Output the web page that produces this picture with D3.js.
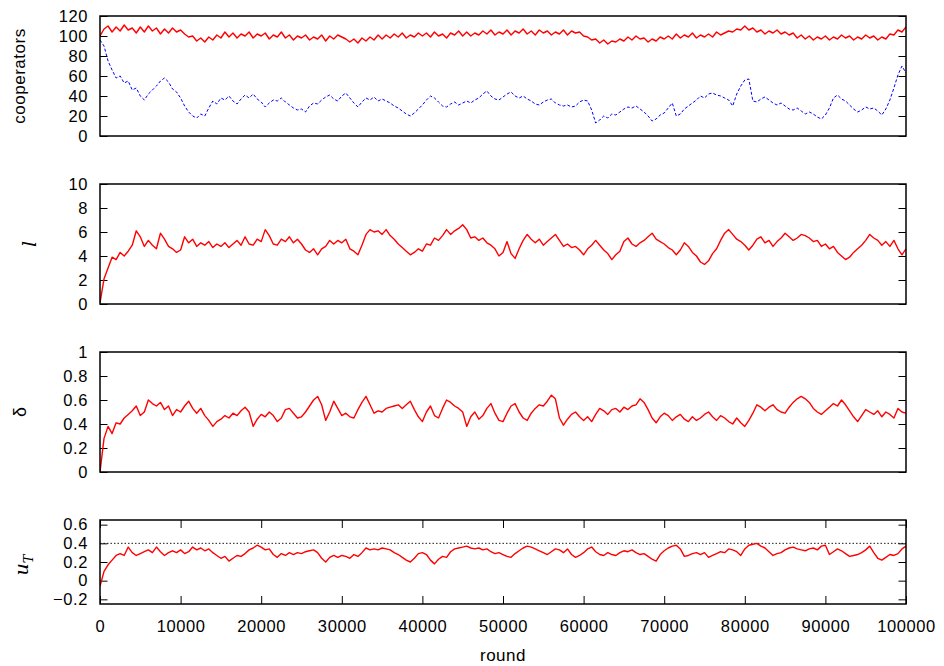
<!DOCTYPE html>
<html>
<head>
<meta charset="utf-8">
<script src="https://cdn.jsdelivr.net/npm/d3@7"></script>
<style>
  body { margin: 0; background: #fff; }
  svg { font-family: "Liberation Sans", Arial, sans-serif; }
</style>
</head>
<body>
<div id="chart"></div>
<script>
// rounds are sampled every 500 steps, 0 .. 100000
var roundStep = 500;

// panel 1 : cooperators (two runs)
var coopHigh = [
  100,107,110,104,109,105,111,106,108,103,109,
  104,110,105,108,102,107,103,108,104,106,
  102,99,100,95,98,94,99,96,101,98,
  104,99,103,98,102,100,104,98,102,100,
  103,97,101,99,104,98,101,96,100,98,
  101,96,99,97,101,95,100,97,101,99,
  97,94,97,93,98,95,99,96,101,97,
  101,98,102,99,103,98,101,99,103,100,
  103,99,104,100,102,98,103,101,105,100,
  104,100,103,101,105,102,106,101,104,102,
  106,101,105,103,107,102,105,101,106,103,
  105,101,104,102,106,101,105,103,104,100,
  99,96,97,93,96,92,95,94,97,95,
  99,96,100,97,98,94,97,95,99,97,
  100,97,102,98,101,99,103,98,101,99,
  102,99,104,101,103,105,104,107,106,110,
  106,108,104,106,102,105,103,106,102,104,
  101,103,98,101,97,100,96,99,97,100,
  96,99,97,101,98,100,96,99,97,101,
  98,100,96,99,97,102,101,106,104,109
];
var coopLow = [
  96,90,75,66,58,60,53,55,46,48,40,
  36,42,46,50,55,58,54,47,44,38,
  30,24,20,18,22,20,28,35,32,38,
  36,40,35,32,37,41,38,42,37,34,
  29,33,36,35,38,34,31,28,26,27,
  24,30,33,32,36,39,41,37,35,40,
  43,38,33,29,34,38,36,39,35,37,
  35,33,30,28,25,22,20,23,27,31,
  36,40,38,34,30,29,32,34,31,33,
  35,33,36,38,42,45,40,37,36,39,
  42,44,40,38,40,37,35,32,31,34,
  36,37,33,31,30,31,29,30,34,36,
  35,26,13,16,20,18,22,21,24,27,
  29,28,30,27,24,20,15,17,21,23,
  28,33,20,22,27,30,33,36,40,38,
  42,43,41,40,38,36,30,42,50,56,
  57,35,34,37,39,36,33,31,33,30,
  27,26,28,25,22,24,22,19,17,21,
  28,38,41,37,35,31,27,24,26,29,
  27,28,25,21,27,36,48,61,70,63
];
// panel 2 : l
var lValues = [
  0.1,2.1,3.0,3.9,3.7,4.3,4.0,4.4,4.9,6.1,5.6,
  4.8,5.3,4.9,4.6,5.9,5.4,4.8,4.6,4.3,4.5,
  5.6,5.1,5.4,4.8,5.1,4.9,5.2,4.7,5.0,4.8,
  5.1,4.7,5.0,5.3,4.9,5.6,5.0,4.9,5.4,5.2,
  6.2,5.7,5.0,4.9,5.4,5.2,5.6,5.1,5.4,5.0,
  4.5,4.3,4.6,4.1,4.6,4.8,5.3,5.0,5.3,5.1,
  5.4,4.6,4.4,4.1,4.9,5.8,6.2,6.0,6.1,5.8,
  6.2,5.7,5.4,5.0,4.7,4.4,4.1,4.3,4.6,4.4,
  5.0,4.9,5.5,5.3,5.7,6.2,5.8,6.1,6.3,6.6,
  6.2,5.5,5.6,5.3,5.5,5.1,4.9,4.6,4.0,4.3,
  5.2,4.2,3.8,4.6,5.3,5.8,5.4,5.1,5.4,4.9,
  5.2,5.5,5.8,5.3,4.8,5.0,4.7,4.8,4.5,4.1,
  4.6,4.9,5.3,4.9,4.5,4.2,3.7,4.1,4.4,5.2,
  5.5,5.0,4.8,5.1,5.3,5.6,5.9,5.4,5.2,5.0,
  4.7,4.5,4.1,4.5,5.1,4.8,4.3,4.0,3.5,3.3,
  3.6,4.2,4.6,5.3,5.9,6.2,5.8,5.4,5.2,4.9,
  4.5,4.9,5.4,5.6,5.1,5.3,4.8,5.2,5.5,5.9,
  5.6,5.3,5.5,5.8,5.7,5.5,5.2,5.3,4.8,5.0,
  4.6,4.8,4.3,4.0,3.7,3.9,4.3,4.6,4.9,5.3,
  5.8,5.5,5.3,4.9,5.2,4.8,5.3,4.6,4.1,4.6
];
// panel 3 : delta
var deltaValues = [
  0.00,0.28,0.38,0.32,0.41,0.40,0.45,0.48,0.51,0.55,0.47,
  0.50,0.60,0.57,0.55,0.58,0.52,0.55,0.47,0.52,0.50,
  0.55,0.59,0.53,0.49,0.53,0.47,0.43,0.38,0.42,0.44,
  0.47,0.45,0.49,0.47,0.51,0.54,0.50,0.38,0.44,0.48,
  0.46,0.50,0.47,0.42,0.45,0.52,0.53,0.49,0.45,0.46,
  0.50,0.55,0.60,0.63,0.56,0.43,0.50,0.59,0.53,0.47,
  0.49,0.46,0.45,0.52,0.58,0.63,0.56,0.49,0.51,0.50,
  0.53,0.54,0.55,0.56,0.53,0.56,0.59,0.52,0.46,0.42,
  0.50,0.55,0.47,0.45,0.53,0.60,0.58,0.55,0.53,0.50,
  0.38,0.46,0.50,0.44,0.47,0.53,0.57,0.49,0.43,0.42,
  0.49,0.55,0.57,0.50,0.45,0.43,0.49,0.53,0.56,0.55,
  0.59,0.64,0.61,0.45,0.39,0.44,0.48,0.50,0.46,0.43,
  0.46,0.42,0.48,0.53,0.51,0.48,0.52,0.53,0.50,0.54,
  0.52,0.55,0.56,0.61,0.58,0.52,0.45,0.41,0.46,0.49,
  0.47,0.43,0.46,0.48,0.44,0.42,0.46,0.43,0.45,0.48,
  0.50,0.46,0.43,0.47,0.45,0.42,0.40,0.45,0.41,0.38,
  0.43,0.49,0.56,0.54,0.51,0.54,0.56,0.52,0.50,0.49,
  0.54,0.58,0.61,0.63,0.61,0.58,0.53,0.50,0.48,0.51,
  0.54,0.57,0.55,0.60,0.56,0.51,0.46,0.42,0.47,0.52,
  0.50,0.48,0.51,0.46,0.50,0.48,0.45,0.53,0.50,0.49
];
// panel 4 : u_T
var uValues = [
  -0.06,0.10,0.17,0.22,0.27,0.29,0.27,0.36,0.30,0.27,0.29,
  0.31,0.33,0.30,0.36,0.31,0.27,0.30,0.32,0.30,0.33,
  0.29,0.31,0.36,0.33,0.35,0.32,0.34,0.30,0.27,0.24,
  0.26,0.21,0.24,0.27,0.26,0.29,0.33,0.35,0.38,0.36,
  0.33,0.34,0.28,0.25,0.29,0.27,0.30,0.28,0.30,0.29,
  0.31,0.32,0.33,0.30,0.24,0.20,0.25,0.27,0.25,0.27,
  0.26,0.24,0.28,0.26,0.30,0.35,0.33,0.34,0.33,0.35,
  0.34,0.33,0.30,0.28,0.25,0.22,0.20,0.24,0.29,0.30,
  0.28,0.22,0.18,0.23,0.26,0.25,0.31,0.34,0.35,0.36,
  0.37,0.35,0.34,0.35,0.33,0.34,0.31,0.29,0.30,0.28,
  0.26,0.25,0.29,0.32,0.35,0.37,0.36,0.34,0.32,0.30,
  0.28,0.31,0.34,0.33,0.30,0.34,0.28,0.25,0.27,0.30,
  0.34,0.36,0.31,0.28,0.27,0.30,0.28,0.27,0.30,0.32,
  0.31,0.33,0.30,0.28,0.29,0.26,0.23,0.21,0.28,0.32,
  0.35,0.37,0.38,0.34,0.26,0.27,0.29,0.30,0.28,0.30,
  0.25,0.27,0.29,0.31,0.30,0.34,0.33,0.31,0.27,0.34,
  0.38,0.39,0.40,0.37,0.35,0.31,0.27,0.29,0.30,0.33,
  0.35,0.36,0.34,0.33,0.32,0.34,0.35,0.33,0.37,0.38,
  0.28,0.31,0.34,0.32,0.29,0.26,0.27,0.28,0.30,0.33,
  0.37,0.30,0.24,0.22,0.25,0.28,0.27,0.29,0.34,0.37
];
var uReference = 0.4;

var xTicks = [0,10000,20000,30000,40000,50000,60000,70000,80000,90000,100000];

var W = 944, H = 666;
var left = 100, right = 906;

var svg = d3.select('#chart').append('svg').attr('width', W).attr('height', H);

var x = d3.scaleLinear().domain([0, 100000]).range([left, right]);

// panel boxes (top, bottom) and y settings
var panels = [
  { top: 16,  bottom: 136, domain: [0, 120],      ticks: [0,20,40,60,80,100,120], fmt: d3.format('d') },
  { top: 184, bottom: 304, domain: [0, 10],       ticks: [0,2,4,6,8,10],          fmt: d3.format('d') },
  { top: 352, bottom: 472, domain: [0, 1],        ticks: [0,0.2,0.4,0.6,0.8,1],   fmt: function(d){ return d === 0 || d === 1 ? String(d) : d3.format('.1f')(d); } },
  { top: 520, bottom: 604, domain: [-0.25, 0.65], ticks: [-0.2,0,0.2,0.4,0.6],    fmt: function(d){ return d === 0 ? '0' : d3.format('.1f')(d); } }
];

function line_for(y){
  return d3.line()
    .x(function(d, i){ return x(i * roundStep); })
    .y(function(d){ return y(d); });
}

function style_axis(g){
  g.select('.domain').remove();
  g.selectAll('line').attr('stroke', '#000').attr('stroke-width', 1);
  g.selectAll('text').attr('fill', '#000')
    .style('font-size', '16.5px').style('letter-spacing', '0.6px')
    .style('font-family', '"Liberation Sans", Arial, sans-serif');
}

panels.forEach(function(p, k){
  var y = d3.scaleLinear().domain(p.domain).range([p.bottom, p.top]);
  p.y = y;

  // clip so the traces stay inside the box
  svg.append('clipPath').attr('id', 'clip' + k)
    .append('rect').attr('x', left).attr('y', p.top)
    .attr('width', right - left).attr('height', p.bottom - p.top);

  var gl = svg.append('g').attr('transform', 'translate(' + left + ',0)')
    .call(d3.axisLeft(y).tickValues(p.ticks).tickFormat(p.fmt).tickSize(-7.5).tickPadding(12));
  var gr = svg.append('g').attr('transform', 'translate(' + right + ',0)')
    .call(d3.axisRight(y).tickValues(p.ticks).tickFormat('').tickSize(-7.5));
  style_axis(gl);
  style_axis(gr);
});

// x ticks only on the bottom panel
var pb = panels[3];
var gb = svg.append('g').attr('transform', 'translate(0,' + pb.bottom + ')')
  .call(d3.axisBottom(x).tickValues(xTicks).tickFormat(d3.format('d')).tickSize(-8).tickPadding(16));
var gt = svg.append('g').attr('transform', 'translate(0,' + pb.top + ')')
  .call(d3.axisTop(x).tickValues(xTicks).tickFormat('').tickSize(-8));
style_axis(gb);
style_axis(gt);

// dotted reference line in the u_T panel
svg.append('line')
  .attr('x1', left).attr('x2', right)
  .attr('y1', pb.y(uReference)).attr('y2', pb.y(uReference))
  .attr('stroke', '#000').attr('stroke-width', 0.9).attr('stroke-dasharray', '1.5,2');

// traces
function trace(k, values, color, dash, width){
  var path = svg.append('path')
    .datum(values)
    .attr('clip-path', 'url(#clip' + k + ')')
    .attr('fill', 'none')
    .attr('stroke', color)
    .attr('stroke-width', width)
    .attr('stroke-linejoin', 'round')
    .attr('d', line_for(panels[k].y));
  if(dash) path.attr('stroke-dasharray', dash);
}
trace(0, coopLow, '#0000ff', '3,2', 1);
trace(0, coopHigh, '#ff0000', null, 1.4);
trace(1, lValues, '#ff0000', null, 1.4);
trace(2, deltaValues, '#ff0000', null, 1.4);
trace(3, uValues, '#ff0000', null, 1.4);

// frames
panels.forEach(function(p){
  svg.append('rect').attr('x', left).attr('y', p.top)
    .attr('width', right - left).attr('height', p.bottom - p.top)
    .attr('fill', 'none').attr('stroke', '#000').attr('stroke-width', 1.5);
});

// axis titles
svg.append('text').attr('transform', 'translate(25,76) rotate(-90)')
  .attr('text-anchor', 'middle').style('font-size', '17px').style('letter-spacing', '0.5px')
  .text('cooperators');
svg.append('text').attr('transform', 'translate(36,244) rotate(-90)')
  .attr('text-anchor', 'middle').style('font-size', '19px')
  .style('font-family', '"DejaVu Serif", serif').style('font-style', 'italic')
  .text('l');
svg.append('text').attr('transform', 'translate(26,412) rotate(-90)')
  .attr('text-anchor', 'middle').style('font-size', '18px')
  .text('δ');
var ut = svg.append('text').attr('transform', 'translate(28,565) rotate(-90)')
  .attr('text-anchor', 'middle').style('font-size', '19px')
  .style('font-family', '"DejaVu Serif", serif').style('font-style', 'italic');
ut.append('tspan').text('u');
ut.append('tspan').style('font-size', '13px').attr('dy', 5).text('T');

svg.append('text').attr('x', (left + right) / 2).attr('y', 661)
  .attr('text-anchor', 'middle').style('font-size', '17px').style('letter-spacing', '0.5px')
  .text('round');
</script>
</body>
</html>
